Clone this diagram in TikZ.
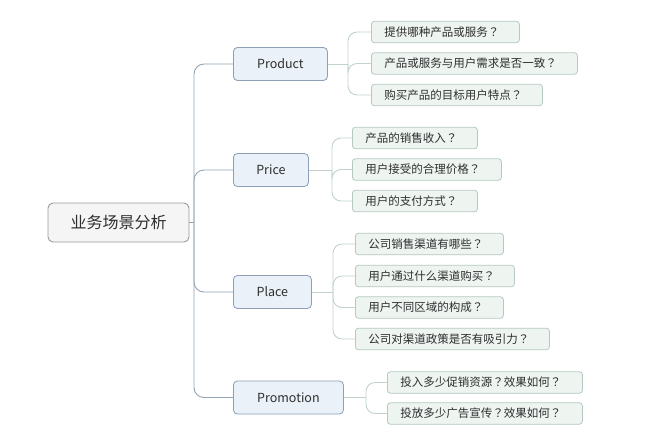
\documentclass[tikz,border=0pt]{standalone}
\usepackage{fontspec}
\setmainfont{Noto Sans CJK SC}
\newfontfamily\qfont{Noto Sans CJK TC}
\newcommand{\qm}{{\qfont ？}}
\definecolor{rootf}{HTML}{F5F5F5}
\definecolor{rootd}{HTML}{9A9A9A}
\definecolor{lvlf}{HTML}{EAF1F8}
\definecolor{lvld}{HTML}{8C9FB5}
\definecolor{leaff}{HTML}{EEF5F1}
\definecolor{leafd}{HTML}{B5C9C0}
\definecolor{trunkc}{HTML}{93A5B5}
\definecolor{leafc}{HTML}{C2D3CC}
\definecolor{txt}{HTML}{2E2E2E}
\begin{document}
\begin{tikzpicture}[x=1pt,y=-1pt,
  rootbox/.style={draw=rootd,fill=rootf,rounded corners=5pt,line width=0.9pt,
    minimum width=141pt,minimum height=39pt,inner sep=0pt,
    font=\fontsize{16}{18}\selectfont,text=txt},
  lvlbox/.style={draw=lvld,fill=lvlf,rounded corners=4pt,line width=0.8pt,
    minimum height=33pt,inner sep=0pt,anchor=west,
    font=\fontsize{12.5}{14}\selectfont,text=txt},
  leafbox/.style={draw=leafd,fill=leaff,rounded corners=3pt,line width=0.8pt,
    minimum height=21.5pt,inner ysep=0pt,inner xsep=13pt,anchor=west,align=left,
    font=\fontsize{11.5}{13}\selectfont,text=txt},
  trunk/.style={draw=trunkc,line width=0.9pt,rounded corners=10pt},
  branch/.style={draw=leafc,line width=0.9pt,rounded corners=9pt}]
\useasboundingbox (0,0) rectangle (650,447);
\fill[white] (0,0) rectangle (650,447);

\node[rootbox] (root) at (118.5,222.5) {业务场景分析};
\coordinate (tr) at (194,222.5);

\node[lvlbox,minimum width=94pt] (product) at (233,64) {Product};
\node[lvlbox,minimum width=75pt] (price) at (233,170) {Price};
\node[lvlbox,minimum width=78pt] (place) at (233,292) {Place};
\node[lvlbox,minimum width=110pt] (promo) at (233,397.5) {Promotion};

\draw[trunk] (root.east) -- (tr);
\foreach \n in {product,price,place,promo}
  \draw[trunk] (tr) |- (\n.west);

% Product leaves
\node[leafbox,text width=122pt] (c1) at (371,32) {提供哪种产品或服务\qm};
\node[leafbox,text width=180pt] (c2) at (371,63.5) {产品或服务与用户需求是否一致\qm};
\node[leafbox,text width=145pt] (c3) at (371,95) {购买产品的目标用户特点\qm};
\coordinate (bc) at (348,64);
% Price leaves
\node[leafbox,text width=99pt] (p1) at (352,138) {产品的销售收入\qm};
\node[leafbox,text width=123pt] (p2) at (352,169.5) {用户接受的合理价格\qm};
\node[leafbox,text width=99pt] (p3) at (352,201) {用户的支付方式\qm};
\coordinate (bp) at (332,170);
% Place leaves
\node[leafbox,text width=122pt] (l1) at (355,244) {公司销售渠道有哪些\qm};
\node[leafbox,text width=133pt] (l2) at (355,276) {用户通过什么渠道购买\qm};
\node[leafbox,text width=122pt] (l3) at (355,307.5) {用户不同区域的构成\qm};
\node[leafbox,text width=168pt] (l4) at (355,339) {公司对渠道政策是否有吸引力\qm};
\coordinate (bl) at (333,292);
% Promotion leaves
\node[leafbox,text width=169pt] (m1) at (387,382.5) {投入多少促销资源\qm 效果如何\qm};
\node[leafbox,text width=169pt] (m2) at (387,413.5) {投放多少广告宣传\qm 效果如何\qm};
\coordinate (bm) at (366,397.5);

\draw[branch] (product.east) -- (bc);
\foreach \n in {c1,c2,c3} \draw[branch] (bc) |- (\n.west);
\draw[branch] (price.east) -- (bp);
\foreach \n in {p1,p2,p3} \draw[branch] (bp) |- (\n.west);
\draw[branch] (place.east) -- (bl);
\foreach \n in {l1,l2,l3,l4} \draw[branch] (bl) |- (\n.west);
\draw[branch] (promo.east) -- (bm);
\foreach \n in {m1,m2} \draw[branch] (bm) |- (\n.west);
\end{tikzpicture}
\end{document}
